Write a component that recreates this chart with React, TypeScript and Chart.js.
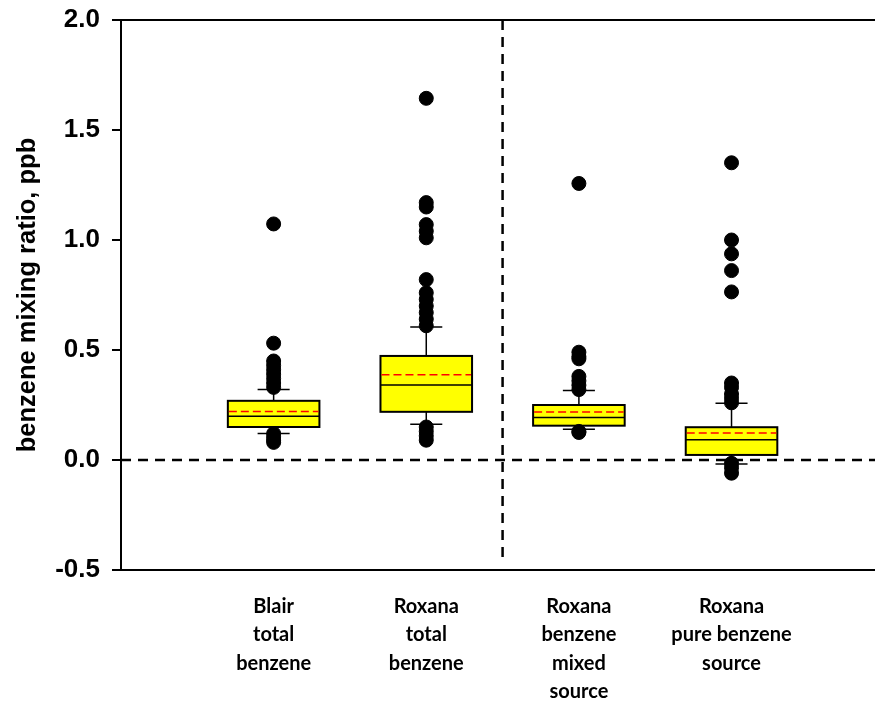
import React, { useEffect, useRef } from "react";
import { Chart, registerables } from "chart.js";

Chart.register(...registerables);

// ---- data ----
const categories: string[][] = [
  ["Blair", "total", "benzene"],
  ["Roxana", "total", "benzene"],
  ["Roxana", "benzene", "mixed", "source"],
  ["Roxana", "pure benzene", "source"],
];
const whiskerLow = [0.12, 0.162, 0.14, -0.018];
const q1 = [0.15, 0.219, 0.156, 0.023];
const median = [0.199, 0.341, 0.193, 0.092];
const mean = [0.22, 0.387, 0.218, 0.123];
const q3 = [0.269, 0.473, 0.25, 0.149];
const whiskerHigh = [0.32, 0.605, 0.316, 0.258];
const outliersBlair = [1.073, 0.531, 0.45, 0.43, 0.41, 0.39, 0.37, 0.35, 0.33, 0.12, 0.105, 0.09, 0.08];
const outliersRoxanaTotal = [1.644, 1.17, 1.15, 1.07, 1.04, 1.01, 0.82, 0.76, 0.73, 0.7, 0.67, 0.64, 0.61, 0.15, 0.13, 0.11, 0.09];
const outliersRoxanaMixed = [1.257, 0.49, 0.47, 0.46, 0.38, 0.36, 0.34, 0.32, 0.13, 0.125];
const outliersRoxanaPure = [1.351, 1.0, 0.937, 0.861, 0.764, 0.35, 0.33, 0.3, 0.28, 0.26, -0.015, -0.035, -0.06];
const outliers = [outliersBlair, outliersRoxanaTotal, outliersRoxanaMixed, outliersRoxanaPure];
const yTicks = [-0.5, 0, 0.5, 1.0, 1.5, 2.0];
const dividerX = 2.5;

// ---- style ----
const BOX_W = 0.6;
const CAP_W = 0.21;
const X_MIN = 0;
const X_MAX = 4.94;

const boxPlugin = {
  id: "boxes",
  beforeDatasetsDraw(chart: any) {
    const { ctx, chartArea } = chart;
    const xs = chart.scales.x;
    const ys = chart.scales.y;
    ctx.save();
    // top frame line
    ctx.strokeStyle = "#000";
    ctx.lineWidth = 2;
    ctx.beginPath();
    ctx.moveTo(chartArea.left, chartArea.top);
    ctx.lineTo(chartArea.right, chartArea.top);
    ctx.stroke();

    for (let i = 0; i < categories.length; i++) {
      const xv = i + 1;
      const xc = xs.getPixelForValue(xv);
      const xl = xs.getPixelForValue(xv - BOX_W / 2);
      const xr = xs.getPixelForValue(xv + BOX_W / 2);
      const cl = xs.getPixelForValue(xv - CAP_W / 2);
      const cr = xs.getPixelForValue(xv + CAP_W / 2);
      const yq1 = ys.getPixelForValue(q1[i]);
      const yq3 = ys.getPixelForValue(q3[i]);
      const ymed = ys.getPixelForValue(median[i]);
      const ymean = ys.getPixelForValue(mean[i]);
      const ywl = ys.getPixelForValue(whiskerLow[i]);
      const ywh = ys.getPixelForValue(whiskerHigh[i]);

      // whiskers
      ctx.strokeStyle = "#000";
      ctx.lineWidth = 1.5;
      ctx.setLineDash([]);
      ctx.beginPath();
      ctx.moveTo(xc, yq3);
      ctx.lineTo(xc, ywh);
      ctx.moveTo(cl, ywh);
      ctx.lineTo(cr, ywh);
      ctx.moveTo(xc, yq1);
      ctx.lineTo(xc, ywl);
      ctx.moveTo(cl, ywl);
      ctx.lineTo(cr, ywl);
      ctx.stroke();

      // box
      ctx.fillStyle = "#ffff00";
      ctx.fillRect(xl, yq3, xr - xl, yq1 - yq3);
      ctx.lineWidth = 2;
      ctx.strokeRect(xl, yq3, xr - xl, yq1 - yq3);

      // median
      ctx.lineWidth = 1.5;
      ctx.beginPath();
      ctx.moveTo(xl, ymed);
      ctx.lineTo(xr, ymed);
      ctx.stroke();

      // mean
      ctx.strokeStyle = "#ff0000";
      ctx.setLineDash([8, 4]);
      ctx.beginPath();
      ctx.moveTo(xl + 1, ymean);
      ctx.lineTo(xr - 1, ymean);
      ctx.stroke();
      ctx.setLineDash([]);
    }
    ctx.restore();
  },
};

export default function App() {
  const ref = useRef<HTMLCanvasElement | null>(null);

  useEffect(() => {
    if (!ref.current) return;
    const outlierPoints: { x: number; y: number }[] = [];
    outliers.forEach((arr, i) => arr.forEach((v) => outlierPoints.push({ x: i + 1, y: v })));

    const chart = new Chart(ref.current, {
      type: "scatter",
      data: {
        datasets: [
          {
            type: "line",
            data: [
              { x: X_MIN, y: 0 },
              { x: X_MAX, y: 0 },
            ],
            borderColor: "#000",
            borderWidth: 2.5,
            borderDash: [10, 7],
            pointRadius: 0,
            fill: false,
            order: 3,
          } as any,
          {
            type: "line",
            data: [
              { x: dividerX, y: 2.0 },
              { x: dividerX, y: -0.455 },
            ],
            borderColor: "#000",
            borderWidth: 2.5,
            borderDash: [10, 7],
            pointRadius: 0,
            fill: false,
            order: 2,
          } as any,
          {
            data: outlierPoints,
            backgroundColor: "#000",
            borderColor: "#000",
            pointRadius: 7,
            pointHoverRadius: 7,
            order: 1,
          },
        ],
      },
      options: {
        animation: false,
        responsive: false,
        events: [],
        layout: { autoPadding: false, padding: { top: 20, right: 0, left: 0, bottom: 0 } },
        plugins: { legend: { display: false }, tooltip: { enabled: false } },
        scales: {
          x: {
            type: "linear",
            min: X_MIN,
            max: X_MAX,
            afterBuildTicks: (s: any) => {
              s.ticks = categories.map((_, i) => ({ value: i + 1 }));
            },
            afterFit: (s: any) => {
              s.height = 136;
              s.paddingLeft = 0;
              s.paddingRight = 0;
            },
            grid: { display: false, drawTicks: false },
            border: { display: true, color: "#000", width: 2 },
            ticks: {
              autoSkip: false,
              maxRotation: 0,
              minRotation: 0,
              padding: 22,
              color: "#000",
              font: { family: "Lato", weight: "bold", size: 20, lineHeight: "28.5px" } as any,
              callback: (v: any) => categories[Math.round(v) - 1] || "",
            },
          },
          y: {
            type: "linear",
            min: -0.5,
            max: 2.0,
            afterBuildTicks: (s: any) => {
              s.ticks = yTicks.map((v) => ({ value: v }));
            },
            afterFit: (s: any) => {
              s.width = 121;
              s.paddingTop = 0;
              s.paddingBottom = 0;
            },
            grid: { drawOnChartArea: false, drawTicks: true, tickLength: 9, color: "#000", lineWidth: 2 },
            border: { display: true, color: "#000", width: 2 },
            ticks: {
              padding: 12,
              color: "#000",
              font: { family: "'Liberation Sans', Arial, sans-serif", weight: "bold", size: 26 },
              callback: (v: any) => Number(v).toFixed(1),
            },
            title: {
              display: true,
              text: "benzene mixing ratio, ppb",
              color: "#000",
              font: { family: "'Liberation Sans', Arial, sans-serif", weight: "bold", size: 25.5, lineHeight: 1.2 },
              padding: { top: 13, bottom: 0 },
            },
          },
        },
      },
      plugins: [boxPlugin],
    } as any);
    return () => chart.destroy();
  }, []);

  return (
    <div style={{ position: "fixed", left: 0, top: 0, width: 875, height: 706, background: "#fff" }}>
      <canvas ref={ref} width={875} height={706} style={{ display: "block", width: 875, height: 706 }} />
    </div>
  );
}
